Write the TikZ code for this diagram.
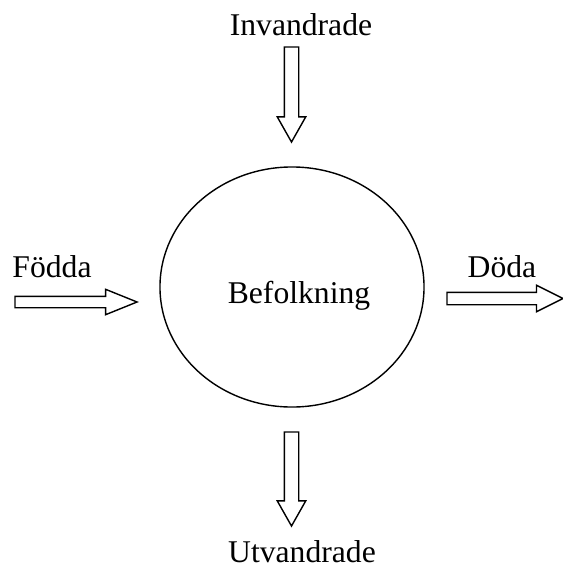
\documentclass[tikz,border=0pt]{standalone}
\usepackage{fontspec}
\setmainfont{Liberation Serif}
\usetikzlibrary{shapes.geometric, shapes.arrows}

\tikzset{
    flowtext/.style={anchor=base, inner sep=0pt, font=\fontsize{22.5}{27}\selectfont},
    blockarrow/.style n args={4}{single arrow, draw, line width=1pt, inner sep=0pt, outer sep=0pt,
        minimum width=0pt, inner ysep=#1, single arrow head extend=#2,
        single arrow tip angle=#3, minimum height=#4, anchor=tail},
}

\begin{document}
\begin{tikzpicture}[x=0.025cm, y=-0.025cm]
    \useasboundingbox (0,0) rectangle (562,567);

    % Befolkning
    \node[ellipse, draw, line width=1pt, minimum width=6.6cm, minimum height=6cm] (pop) at (292,287) {};
    \node[flowtext] (befolkning) at (299,303) {Befolkning};

    % Invandrade
    \node[flowtext] (invandrade) at (301,35) {Invandrade};
    \node[blockarrow={0.1625cm}{0.175cm}{59}{2.375cm}, rotate=-90] (inarrow) at (291.5,47) {};

    % Födda
    \node[flowtext] (fodda) at (52,277) {Födda};
    \node[blockarrow={0.125cm}{0.175cm}{44}{3.05cm}] (bornarrow) at (15,302) {};

    % Döda
    \node[flowtext] (doda) at (502,277) {Döda};
    \node[blockarrow={0.1375cm}{0.175cm}{53}{2.9cm}] (deadarrow) at (447,298.5) {};

    % Utvandrade
    \node[flowtext] (utvandrade) at (302,562) {Utvandrade};
    \node[blockarrow={0.1625cm}{0.175cm}{59}{2.35cm}, rotate=-90] (outarrow) at (291.5,432) {};
\end{tikzpicture}
\end{document}
